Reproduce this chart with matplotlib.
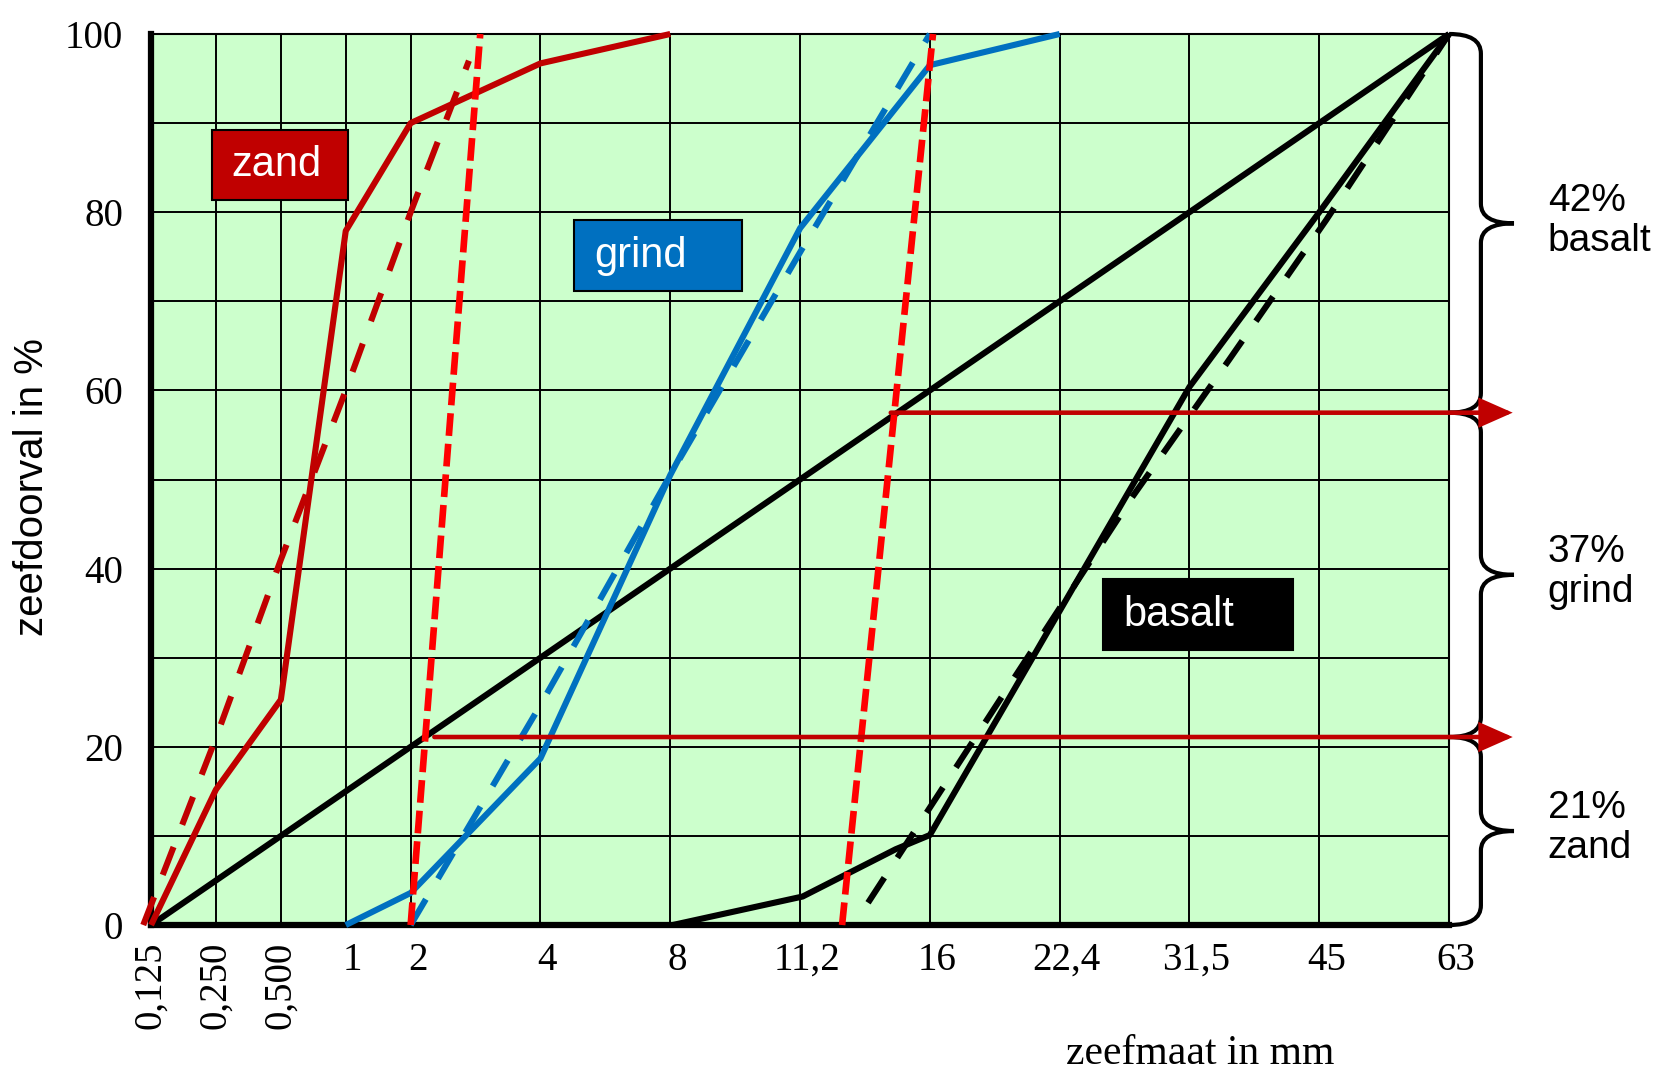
import numpy as np
import matplotlib
matplotlib.use('Agg')
import matplotlib.pyplot as plt
from matplotlib.path import Path
from matplotlib.patches import PathPatch, Rectangle
import matplotlib.transforms as mtransforms

# ---------------- data ----------------
sieve_mm = [0.125, 0.25, 0.5, 1, 2, 4, 8, 11.2, 16, 22.4, 31.5, 45, 63]
sieve_labels = ['0,125', '0,250', '0,500', '1', '2', '4', '8', '11,2', '16',
                '22,4', '31,5', '45', '63']
sieve_pos = [0, 1, 2, 3, 4, 6, 8, 10, 12, 14, 16, 18, 20]

zand_mm = [0.125, 0.25, 0.5, 1, 2, 4, 8]
zand_pct = [0, 15.2, 25.3, 77.9, 90, 96.7, 100]
zand_ideal_mm = [0.115, 0.25, 0.5, 1, 2, 2.73]
zand_ideal_pct = [0, 21, 41, 60, 80, 97]

grind_mm = [1, 2, 4, 8, 11.2, 16, 22.4]
grind_pct = [0, 3.6, 18.7, 50.5, 78.2, 96.5, 100]
grind_ideal_mm = [2, 4, 8, 11.2, 16]
grind_ideal_pct = [0, 24.7, 50.5, 75.5, 100]

basalt_mm = [8.05, 11.28, 14.56, 16, 31.5, 45, 63]
basalt_pct = [0, 3.2, 8.5, 10.1, 60.4, 80, 100]
basalt_ideal_mm = [13.5, 19.6, 27.0, 35.1, 45.8, 63]
basalt_ideal_pct = [2.5, 26.7, 47.8, 63.4, 79.1, 100]

mix_mm = [0.125, 63]
mix_pct = [0, 100]

limit_lo_mm = [2.0, 2.9]
limit_hi_mm = [12.57, 16.13]
limit_pct = [0, 100]

split_pct = [21.1, 57.5]
split_start_mm = [2.27, 14.37]
share_labels = ['42%\nbasalt', '37%\ngrind', '21%\nzand']
share_bounds = [100, 57.5, 21.1, 0]

# ---------------- scale ----------------
ext_log = np.log([0.0625] + sieve_mm + [88.2])
ext_pos = np.array([-1] + sieve_pos + [22], dtype=float)


def fwd(x):
    x = np.asarray(x, dtype=float)
    return np.interp(np.log(np.clip(x, 1e-9, None)), ext_log, ext_pos)


def inv(p):
    return np.exp(np.interp(np.asarray(p, dtype=float), ext_pos, ext_log))


SERIF = ['Liberation Serif', 'DejaVu Serif']
SANS = ['Liberation Sans', 'DejaVu Sans']

fig = plt.figure(figsize=(16.58, 10.72), dpi=100)
ax = fig.add_axes([0.0911, 0.1371, 0.7829, 0.8312])
ax.set_xscale('function', functions=(fwd, inv))
ax.set_xlim(0.125, 63)
ax.set_ylim(0, 100)
ax.set_facecolor('#CCFFCC')

ax.set_xticks(sieve_mm)
ax.set_xticklabels(sieve_labels)
ax.xaxis.set_minor_locator(matplotlib.ticker.NullLocator())
ax.set_yticks(range(0, 101, 20))
ax.set_yticks(range(10, 100, 20), minor=True)
ax.grid(True, which='both', color='black', lw=1.4)
ax.set_axisbelow(True)
ax.tick_params(axis='both', which='both', length=0)
ax.tick_params(axis='y', pad=20)
ax.tick_params(axis='x', pad=12)
for lbl in ax.get_yticklabels():
    lbl.set_fontfamily(SERIF)
    lbl.set_fontsize(28)
offset = mtransforms.ScaledTranslation(7 / 100, 0, fig.dpi_scale_trans)
for i, lbl in enumerate(ax.get_xticklabels()):
    lbl.set_fontfamily(SERIF)
    lbl.set_fontsize(28)
    if i < 3:
        lbl.set_rotation(90)
    else:
        lbl.set_transform(lbl.get_transform() + offset)

for s in ['left', 'bottom']:
    ax.spines[s].set_linewidth(4.5)
for s in ['top', 'right']:
    ax.spines[s].set_linewidth(1.5)

DARKRED = '#C00000'
RED = '#FF0000'
BLUE = '#0070C0'
lw = 4.4
dash = (0, (4.9, 3.9))
kw = dict(clip_on=False, solid_capstyle='butt', dash_capstyle='butt')

ax.plot(mix_mm, mix_pct, color='black', lw=lw, zorder=4, **kw)
ax.plot(zand_mm, zand_pct, color=DARKRED, lw=lw, zorder=5, **kw)
ax.plot(zand_ideal_mm, zand_ideal_pct, color=DARKRED, lw=lw, ls=dash, zorder=5, **kw)
ax.plot(grind_mm, grind_pct, color=BLUE, lw=lw, zorder=5, **kw)
ax.plot(grind_ideal_mm, grind_ideal_pct, color=BLUE, lw=lw, ls=dash, zorder=5, **kw)
ax.plot(basalt_mm, basalt_pct, color='black', lw=lw, zorder=5, **kw)
ax.plot(basalt_ideal_mm, basalt_ideal_pct, color='black', lw=lw, ls=dash, zorder=5, **kw)
ax.plot(limit_lo_mm, limit_pct, color=RED, lw=4.8, ls=(0, (3.4, 1.2)), zorder=6, **kw)
ax.plot(limit_hi_mm, limit_pct, color=RED, lw=4.8, ls=(0, (3.4, 1.2)), zorder=6, **kw)

trans = mtransforms.blended_transform_factory(ax.transAxes, ax.transData)

# red split arrows
for y, x0 in zip(split_pct, split_start_mm):
    ax.annotate('', xy=(1.049, y), xycoords=trans, xytext=(x0, y), textcoords='data',
                arrowprops=dict(arrowstyle='-|>,head_length=0.95,head_width=0.42',
                                color=DARKRED, lw=3.3, shrinkA=0, shrinkB=0,
                                mutation_scale=20, joinstyle='miter'),
                annotation_clip=False, zorder=7)

# label boxes
boxes = [('zand', DARKRED, 0.0473, 81.4, 0.1042, 7.8, 0.062, 85.3),
         ('grind', BLUE, 0.326, 71.2, 0.129, 7.9, 0.3415, 75.1),
         ('basalt', 'black', 0.7335, 30.9, 0.146, 7.9, 0.749, 34.8)]
for name, col, bx, by, bw, bh, tx, ty in boxes:
    ax.add_patch(Rectangle((bx, by), bw, bh, transform=trans, facecolor=col,
                           edgecolor='black', lw=1.5, zorder=8))
    ax.text(tx, ty, name, transform=trans, color='white', fontsize=30,
            family=SANS, ha='left', va='center', zorder=9)

# braces
x0, x1, x2, r = 1.0, 1.0245, 1.05, 2.2
for top, bot in zip(share_bounds[:-1], share_bounds[1:]):
    m = (top + bot) / 2
    verts = [(x0, top), (x1, top), (x1, top - r),
             (x1, m + r), (x1, m), (x2, m),
             (x1, m), (x1, m - r),
             (x1, bot + r), (x1, bot), (x0, bot)]
    codes = [Path.MOVETO, Path.CURVE3, Path.CURVE3,
             Path.LINETO, Path.CURVE3, Path.CURVE3,
             Path.CURVE3, Path.CURVE3,
             Path.LINETO, Path.CURVE3, Path.CURVE3]
    ax.add_patch(PathPatch(Path(verts, codes), transform=trans, fill=False,
                           edgecolor='black', lw=3.0, clip_on=False, zorder=6))
    lab = share_labels[share_bounds.index(top)]
    ax.text(1.076, m + 0.3, lab, transform=trans, fontsize=28, family=SANS,
            ha='left', va='center', linespacing=1.15)

fig.text(32 / 1658, 1 - 487 / 1072, 'zeefdoorval in %', rotation=90, fontsize=29,
         family=SANS, ha='center', va='center')
fig.text(1200 / 1658, 1 - 1054 / 1072, 'zeefmaat in mm', fontsize=30,
         family=SERIF, ha='center', va='center')

fig.savefig('out.png', dpi=100)
